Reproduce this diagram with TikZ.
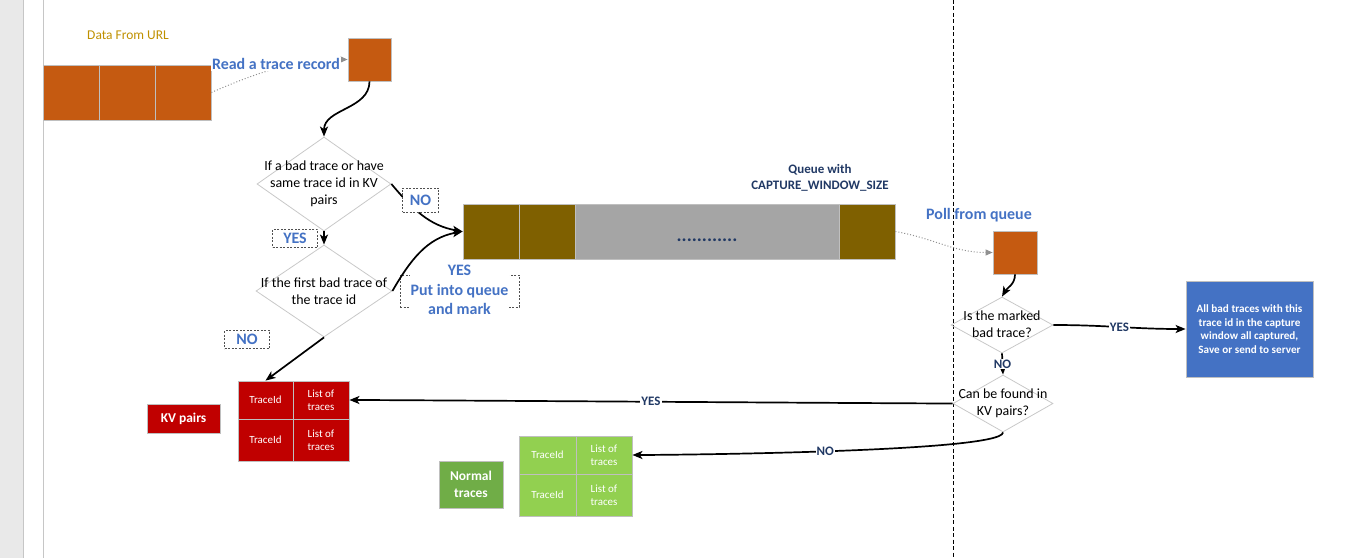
\documentclass[tikz,border=0pt]{standalone}
\usepackage{fontspec}
\setmainfont{Carlito}
\usetikzlibrary{shapes.geometric,arrows.meta}
\definecolor{rust}{HTML}{C55A11}
\definecolor{olive}{HTML}{7F6000}
\definecolor{qgray}{HTML}{A5A5A5}
\definecolor{kvred}{HTML}{C00000}
\definecolor{lightgreen}{HTML}{92D050}
\definecolor{normgreen}{HTML}{70AD47}
\definecolor{boxblue}{HTML}{4472C4}
\definecolor{lblblue}{HTML}{4472C4}
\definecolor{navy}{HTML}{203864}
\definecolor{gold}{HTML}{BF9000}
\definecolor{cellline}{HTML}{BFBFBF}
\definecolor{diamline}{HTML}{C8C8C8}
\definecolor{hintgray}{HTML}{909090}
\definecolor{boxline}{HTML}{505050}
\definecolor{stripgray}{HTML}{E9E9E9}
\definecolor{pageline}{HTML}{C6C6C6}
\begin{document}
\begin{tikzpicture}[
  x=1bp, y=1bp,
  cellbox/.style 2 args={draw=cellline, line width=0.8bp, inner sep=0pt, minimum width=#1, minimum height=#2},
  decision/.style 2 args={diamond, draw=diamline, line width=0.8bp, inner sep=0pt, minimum width=#1, minimum height=#2},
  ask/.style={font=\fontsize{14}{17}\selectfont, align=center},
  bluelbl/.style={font=\bfseries\fontsize{16}{19.5}\selectfont, text=lblblue, align=center},
  navylbl/.style={font=\bfseries\fontsize{13}{16}\selectfont, text=navy, align=center},
  celltext/.style={font=\fontsize{11}{13}\selectfont, text=white, align=center},
  dashbox/.style={draw=boxline, line width=0.7bp, dash pattern=on 2bp off 1.5bp},
  flow/.style={line width=1.7bp, -{Stealth[length=10bp,width=8bp,inset=2.5bp]}},
  hint/.style={draw=hintgray, line width=1bp, dash pattern=on 1bp off 2bp, -{Triangle[length=7bp,width=6bp]}},
]
  \useasboundingbox (0,0) rectangle (1361,-558);
  \fill[stripgray] (0,0) rectangle (23,-558);
  \draw[pageline, line width=0.8bp] (23,0) -- (23,-558) (43,0) -- (43,-558);
  \draw[line width=0.9bp, dash pattern=on 4bp off 2.5bp] (953,0) -- (953,-558);

  \node[font=\fontsize{13.5}{16}\selectfont, text=gold] (urllbl) at (128,-35) {Data From URL};
  \node[cellbox={56bp}{55bp}, fill=rust] (data1) at (71,-92.5) {};
  \node[cellbox={56bp}{55bp}, fill=rust] (data2) at (127,-92.5) {};
  \node[cellbox={56bp}{55bp}, fill=rust] (data3) at (183,-92.5) {};
  \node[cellbox={43bp}{43bp}, fill=rust] (rec) at (369.5,-59.5) {};
  \draw[hint] (data3.east) .. controls +(50,22) and +(-50,0) .. (rec.west);
  \node[bluelbl, fill=white, inner sep=1bp] (readlbl) at (276,-64) {Read a trace record};

  \node[decision={134bp}{94bp}] (d1) at (324,-184) {};
  \node[ask] (d1txt) at (d1) {If a bad trace or have\\same trace id in KV\\pairs};
  \node[decision={136bp}{92bp}] (d2) at (324,-291) {};
  \node[ask] (d2txt) at (d2) {If the first bad trace of\\the trace id};
  \draw[flow] (rec.south) to[out=-90,in=90] (d1.north);
  \draw[flow] (d1.south) -- (d2.north);
  \node[dashbox, bluelbl, fill=white, minimum width=45bp, minimum height=18bp, inner sep=0pt] (yes1) at (295,-238.5) {YES};

  \node[cellbox={56bp}{55bp}, fill=olive] (q1) at (491,-231.5) {};
  \node[cellbox={56bp}{55bp}, fill=olive] (q2) at (547,-231.5) {};
  \node[cellbox={264bp}{55bp}, fill=qgray] (qgap) at (707,-231.5) {};
  \node[cellbox={56bp}{55bp}, fill=olive] (q4) at (867,-231.5) {};
  \node[anchor=base, text=navy, font=\bfseries\fontsize{19}{22}\selectfont] (qdots) at (707,-242) {............};
  \node[navylbl] (qlbl) at (820,-178) {Queue with\\CAPTURE\_WINDOW\_SIZE};

  \node[dashbox, minimum width=119bp, minimum height=32bp] (putbox) at (459.5,-291) {};
  \node[bluelbl, fill=white, inner sep=1bp] (putlbl) at (459.5,-290) {YES\\Put into queue\\and mark};
  \draw[flow] (d1.east) to[out=-50,in=170] (q1.west);
  \node[dashbox, bluelbl, fill=white, minimum width=36bp, minimum height=24bp, inner sep=0pt] (no1) at (420.5,-200) {NO};
  \draw[flow] (d2.east) to[out=60,in=190] (q1.west);
  \node[dashbox, bluelbl, fill=white, minimum width=45bp, minimum height=18bp, inner sep=0pt] (no2) at (247,-339.5) {NO};

  \node[cellbox={55bp}{38bp}, fill=kvred, celltext] (kvA1) at (265.5,-400) {TraceId};
  \node[cellbox={56bp}{38bp}, fill=kvred, celltext] (kvB1) at (321,-400) {List of\\traces};
  \node[cellbox={55bp}{42bp}, fill=kvred, celltext] (kvA2) at (265.5,-440) {TraceId};
  \node[cellbox={56bp}{42bp}, fill=kvred, celltext] (kvB2) at (321,-440) {List of\\traces};
  \node[cellbox={73bp}{29bp}, fill=kvred, text=white, font=\bfseries\fontsize{13.5}{16}\selectfont] (kvlbl) at (183.5,-418.5) {KV pairs};
  \draw[flow] (d2.south) -- (kvA1.north);

  \node[cellbox={57bp}{38bp}, fill=lightgreen, celltext] (gA1) at (547.5,-455) {TraceId};
  \node[cellbox={56bp}{38bp}, fill=lightgreen, celltext] (gB1) at (604,-455) {List of\\traces};
  \node[cellbox={57bp}{42bp}, fill=lightgreen, celltext] (gA2) at (547.5,-495) {TraceId};
  \node[cellbox={56bp}{42bp}, fill=lightgreen, celltext] (gB2) at (604,-495) {List of\\traces};
  \node[cellbox={64bp}{47bp}, fill=normgreen, text=white, align=center, font=\bfseries\fontsize{13.5}{16.5}\selectfont] (normlbl) at (471,-484.5) {Normal\\traces};

  \node[cellbox={44bp}{43bp}, fill=rust] (poll) at (1015,-252.5) {};
  \node[bluelbl] (polllbl) at (979,-215) {Poll from queue};
  \draw[hint] (q4.east) to[out=-10,in=180] (poll.west);

  \node[decision={102bp}{56bp}] (d3) at (1002,-325) {};
  \node[ask] (d3txt) at (1002,-324.5) {Is the marked\\bad trace?};
  \node[decision={100bp}{57bp}] (d4) at (1003,-403.5) {};
  \node[ask] (d4txt) at (1003,-403) {Can be found in\\KV pairs?};
  \node[cellbox={127bp}{96bp}, fill=boxblue, text=white, align=center, font=\bfseries\fontsize{11.2}{13.7}\selectfont] (done) at (1249.5,-329) {All bad traces with this\\trace id in the capture\\window all captured,\\Save or send to server};

  \draw[flow] (poll.south) to[out=-90,in=60] (d3.north);
  \draw[flow] (d3.east) to[out=0,in=180] node[navylbl, fill=white, inner sep=1bp] (yes3) {YES} (done.west);
  \draw[flow] (d3.south) -- node[navylbl, fill=white, inner sep=1bp] (no3) {NO} (d4.north);
  \draw[flow] (d4.west) to[out=180,in=0,looseness=0.17] node[navylbl, fill=white, inner sep=1bp] (yes4) {YES} (kvB1.east);
  \draw[flow] (d4.south) to[out=-90,in=0,looseness=0.14] node[navylbl, fill=white, inner sep=1bp] (no4) {NO} (gB1.east);
\end{tikzpicture}
\end{document}
